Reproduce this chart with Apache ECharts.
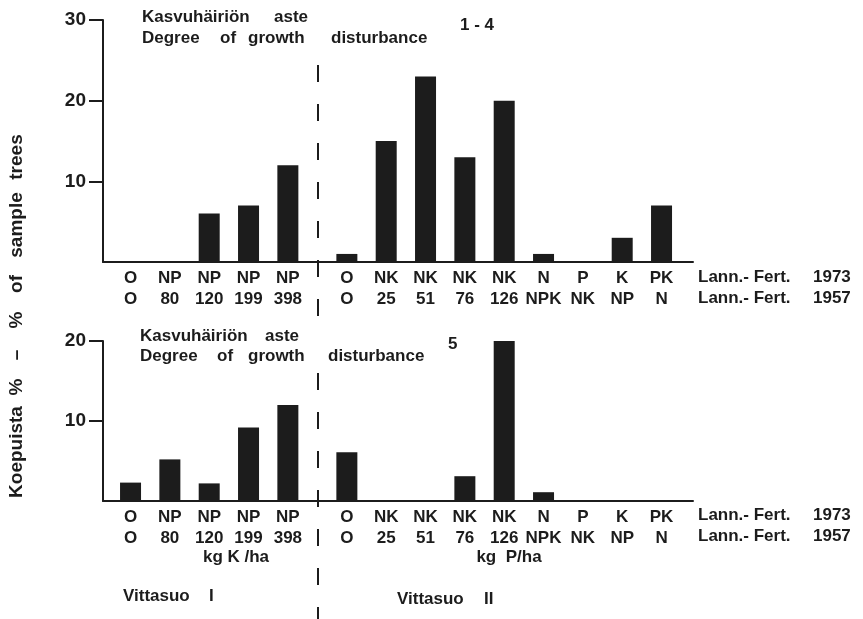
<!DOCTYPE html>
<html>
<head>
<meta charset="utf-8">
<script src="https://cdn.jsdelivr.net/npm/echarts@6/dist/echarts.min.js"></script>
<style>
  html, body { margin: 0; padding: 0; background: #ffffff; }
  #chart { width: 863px; height: 619px; }
</style>
</head>
<body>
<div id="chart"></div>
<script>
// Fertiliser treatments, 1973 row and 1957 row.
// First 5 plots are Vittasuo I, the next 9 are Vittasuo II.
const fert1973 = ['O', 'NP', 'NP', 'NP', 'NP', 'O', 'NK', 'NK', 'NK', 'NK', 'N', 'P', 'K', 'PK'];
const fert1957 = ['O', '80', '120', '199', '398', 'O', '25', '51', '76', '126', 'NPK', 'NK', 'NP', 'N'];
const siteSizes = [5, 9];

// Share of sample trees (%) per degree of growth disturbance
const degree1to4 = [0, 0, 6, 7, 12, 1, 15, 23, 13, 20, 1, 0, 3, 7];
const degree5 = [2.3, 5.2, 2.2, 9.2, 12, 6.1, 0, 0, 3.1, 20, 1.1, 0, 0, 0];

// y tick labels of each panel
const topTicks = [10, 20, 30];
const bottomTicks = [10, 20];

const FONT = '"Liberation Sans", Arial, sans-serif';
const INK = '#1c1c1c';

// Plot slots: Vittasuo II is shifted half a slot to open the gap between sites
const slots = fert1973.map((_, i) => i + (i >= siteSizes[0] ? 0.5 : 0));
const dividerSlot = (slots[siteSizes[0] - 1] + slots[siteSizes[0]]) / 2;

function treatmentLabel(v) {
  const i = slots.findIndex(p => Math.abs(p - v) < 1e-6);
  return i < 0 ? '' : fert1973[i] + '\n' + fert1957[i];
}

const axisLine = { show: true, onZero: false, lineStyle: { color: INK, width: 2 } };

function xAxisFor(gridIndex) {
  return {
    gridIndex, type: 'value', min: -0.7, max: 14.3,
    axisLine, axisTick: { show: false }, splitLine: { show: false },
    axisLabel: {
      customValues: slots, formatter: treatmentLabel,
      color: INK, fontFamily: FONT, fontWeight: 'bold', fontSize: 17, lineHeight: 21, margin: 6
    }
  };
}

function yAxisFor(gridIndex, max, ticks) {
  return {
    gridIndex, type: 'value', min: 0, max,
    axisLine,
    axisTick: { show: true, customValues: ticks, length: 14, lineStyle: { color: INK, width: 2 } },
    axisLabel: { customValues: ticks, color: INK, fontFamily: FONT, fontWeight: 'bold', fontSize: 19, margin: 17 },
    splitLine: { show: false }
  };
}

const chart = echarts.init(document.getElementById('chart'), null, { renderer: 'canvas' });

chart.setOption({
  animation: false,
  backgroundColor: '#ffffff',
  grid: [
    { left: 103, width: 590, top: 20, height: 242 },
    { left: 103, width: 590, top: 341, height: 160 }
  ],
  xAxis: [xAxisFor(0), xAxisFor(1)],
  yAxis: [yAxisFor(0, 30, topTicks), yAxisFor(1, 20, bottomTicks)],
  series: [
    {
      type: 'bar', xAxisIndex: 0, yAxisIndex: 0, barWidth: 21,
      itemStyle: { color: INK },
      data: slots.map((p, i) => [p, degree1to4[i]])
    },
    {
      type: 'bar', xAxisIndex: 1, yAxisIndex: 1, barWidth: 21,
      itemStyle: { color: INK },
      data: slots.map((p, i) => [p, degree5[i]])
    }
  ]
});

// Annotation text and the dashed site divider
function word(text, x, y, extra) {
  return {
    type: 'text', x, y, silent: true,
    style: Object.assign({
      text, fill: INK, fontFamily: FONT, fontWeight: 'bold', fontSize: 17,
      align: 'left', verticalAlign: 'middle'
    }, extra || {})
  };
}

const divX = Math.round(chart.convertToPixel({ xAxisIndex: 0 }, dividerSlot)) + 1;
const dash = { stroke: INK, lineWidth: 2, lineDash: [17, 22] };

const texts = [
  // top panel heading
  word('Kasvuhäiriön', 142, 17), word('aste', 274, 17),
  word('Degree', 142, 38), word('of', 220, 38), word('growth', 248, 38), word('disturbance', 331, 38),
  word('1 - 4', 460, 25),
  // bottom panel heading
  word('Kasvuhäiriön', 140, 336), word('aste', 265, 336),
  word('Degree', 140, 356), word('of', 217, 356), word('growth', 248, 356), word('disturbance', 328, 356),
  word('5', 448, 344),
  // fertilisation year rows
  word('Lann.- Fert.', 698, 277), word('1973', 813, 277),
  word('Lann.- Fert.', 698, 298), word('1957', 813, 298),
  word('Lann.- Fert.', 698, 515), word('1973', 813, 515),
  word('Lann.- Fert.', 698, 536), word('1957', 813, 536),
  // dose units
  word('kg K /ha', 236, 557, { align: 'center' }),
  word('kg  P/ha', 509, 557, { align: 'center' }),
  // site names
  word('Vittasuo', 123, 596), word('I', 209, 596),
  word('Vittasuo', 397, 599), word('II', 484, 599)
];

// vertical axis title, words placed along the left margin
const titleWords = [
  ['Koepuista', 452], ['%', 387], ['–', 355], ['%', 320], ['of', 284], ['sample', 225], ['trees', 157]
];
titleWords.forEach(([t, y]) => {
  texts.push({
    type: 'text', x: 17, y, rotation: Math.PI / 2, silent: true,
    style: { text: t, fill: INK, fontFamily: FONT, fontWeight: 'bold', fontSize: 19, align: 'center', verticalAlign: 'middle' }
  });
});

chart.setOption({
  graphic: texts.concat([
    { type: 'line', silent: true, shape: { x1: divX, y1: 65, x2: divX, y2: 318 }, style: dash },
    { type: 'line', silent: true, shape: { x1: divX, y1: 373, x2: divX, y2: 619 }, style: dash }
  ])
});
</script>
</body>
</html>
